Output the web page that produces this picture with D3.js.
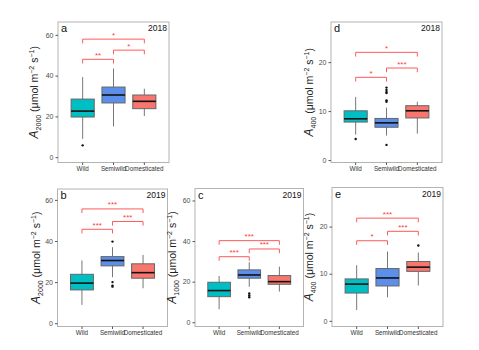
<!DOCTYPE html>
<html lang="en">
<head>
<meta charset="utf-8">
<title>Photosynthesis boxplots</title>
<script src="https://cdn.jsdelivr.net/npm/d3@7"></script>
<style>
  body { margin: 0; background: #fff; }
  text { font-family: "Liberation Sans", Arial, sans-serif; }
</style>
</head>
<body>
<script>
// groups on every x axis
var groups = ["Wild", "Semiwild", "Domesticated"];
var colors = ["#00BFC4", "#5B8FEA", "#F8766D"];

// box stats per group: [lower whisker, q1, median, q3, upper whisker]
var statsA = [[9.0, 19.7, 22.6, 28.5, 39.3], [15.1, 26.6, 30.5, 34.4, 43.5], [20.2, 23.8, 27.4, 30.5, 33.6]];
var outA = [[5.8], [], []];
var statsB = [[8.9, 16.2, 19.5, 23.8, 30.5], [22.4, 27.9, 30.5, 32.4, 37.0], [17.0, 21.9, 24.6, 28.9, 33.2]];
var outB = [[], [39.7, 20.0, 18.3, 17.8], []];
var statsC = [[6.4, 12.6, 15.6, 19.7, 22.8], [17.5, 21.7, 23.3, 25.8, 29.6], [15.1, 18.7, 20.0, 23.0, 27.4]];
var outC = [[], [14.2, 13.2, 12.3], []];
var statsD = [[5.2, 7.76, 8.43, 10.06, 12.9], [5.0, 6.7, 7.6, 8.5, 10.7], [5.4, 8.6, 10.06, 11.1, 11.9]];
var outD = [[4.3], [3.1, 11.9, 12.2, 13.7, 13.9, 14.3, 14.8], []];
var statsE = [[2.3, 5.9, 7.8, 8.9, 11.8], [5.0, 7.4, 9.1, 11.1, 14.7], [7.5, 10.5, 11.4, 12.6, 14.5]];
var outE = [[], [], [16.0]];

// significance brackets: [from group, to group, height, label]
var sigA = [[0, 1, 48.0, "**"], [1, 2, 52.5, "*"], [0, 2, 57.9, "*"]];
var sigB = [[0, 1, 45.7, "***"], [1, 2, 49.5, "***"], [0, 2, 55.6, "***"]];
var sigC = [[0, 1, 32.3, "***"], [1, 2, 36.1, "***"], [0, 2, 40.2, "***"]];
var sigD = [[0, 1, 16.9, "*"], [1, 2, 18.8, "***"], [0, 2, 22.0, "*"]];
var sigE = [[0, 1, 17.0, "*"], [1, 2, 19.0, "***"], [0, 2, 21.8, "***"]];

var ticksBig = [0, 20, 40, 60];
var ticksSmall = [0, 10, 20];

var svg = d3.select("body").append("svg")
  .attr("width", 479).attr("height", 350);

function panel(p) {
  var g = svg.append("g");
  var x = d3.scaleBand().domain(groups).range([p.x0, p.x1]).paddingOuter(0.3).paddingInner(0);
  var y = d3.scaleLinear().domain(p.dom).range([p.y1, p.y0]);
  var bw = x.bandwidth() * 0.75;

  // frame
  g.append("rect").attr("x", p.x0).attr("y", p.y0)
    .attr("width", p.x1 - p.x0).attr("height", p.y1 - p.y0)
    .attr("fill", "none").attr("stroke", "#b3b3b3").attr("stroke-width", 1);

  // y axis
  var ya = g.append("g").attr("transform", "translate(" + p.x0 + ",0)")
    .call(d3.axisLeft(y).tickValues(p.ticks).tickSize(2.5).tickPadding(2));
  ya.select(".domain").remove();
  ya.selectAll("line").attr("stroke", "#555");
  ya.selectAll("text").attr("font-size", 7).attr("fill", "#4d4d4d");

  // x axis
  var xa = g.append("g").attr("transform", "translate(0," + p.y1 + ")")
    .call(d3.axisBottom(x).tickSize(2.5).tickPadding(1.5));
  xa.select(".domain").remove();
  xa.selectAll("line").attr("stroke", "#555");
  xa.selectAll("text").attr("font-size", 6.3).attr("fill", "#333");

  groups.forEach(function(name, i) {
    var s = p.stats[i];
    var cx = x(name) + x.bandwidth() / 2;
    g.append("line").attr("x1", cx).attr("x2", cx)
      .attr("y1", y(s[0])).attr("y2", y(s[4]))
      .attr("stroke", "#777").attr("stroke-width", 1);
    g.append("rect").attr("x", cx - bw / 2).attr("y", y(s[3]))
      .attr("width", bw).attr("height", y(s[1]) - y(s[3]))
      .attr("fill", colors[i]).attr("stroke", "#666").attr("stroke-width", 1);
    g.append("line").attr("x1", cx - bw / 2).attr("x2", cx + bw / 2)
      .attr("y1", y(s[2])).attr("y2", y(s[2]))
      .attr("stroke", "#111").attr("stroke-width", 1.6);
    p.out[i].forEach(function(v) {
      g.append("circle").attr("cx", cx).attr("cy", y(v)).attr("r", 1.2).attr("fill", "#111");
    });
  });

  var tip = (p.dom[1] - p.dom[0]) * 0.03;
  p.sig.forEach(function(b) {
    var xa0 = x(groups[b[0]]) + x.bandwidth() / 2;
    var xa1 = x(groups[b[1]]) + x.bandwidth() / 2;
    var path = d3.path();
    path.moveTo(xa0, y(b[2] - tip));
    path.lineTo(xa0, y(b[2]));
    path.lineTo(xa1, y(b[2]));
    path.lineTo(xa1, y(b[2] - tip));
    g.append("path").attr("d", path.toString())
      .attr("fill", "none").attr("stroke", "#FF5A5A").attr("stroke-width", 1);
    g.append("text").attr("x", (xa0 + xa1) / 2).attr("y", y(b[2]) - 1.5)
      .attr("text-anchor", "middle").attr("font-size", 8).attr("fill", "#FF3B3B")
      .text(b[3]);
  });

  g.append("text").attr("x", p.x0 + 3).attr("y", p.y0 + 10)
    .attr("font-size", 11).attr("fill", "#111").text(p.letter);
  g.append("text").attr("x", p.x1 - 2).attr("y", p.y0 + 9)
    .attr("text-anchor", "end").attr("font-size", 8.5).attr("fill", "#111").text(p.year);

  // y label
  var cy = (p.y0 + p.y1) / 2;
  var lab = g.append("text")
    .attr("transform", "translate(" + p.lx + "," + cy + ") rotate(-90)")
    .attr("text-anchor", "middle").attr("font-size", 10.5).attr("fill", "#222");
  lab.append("tspan").attr("font-style", "italic").attr("font-size", 12).text("A");
  lab.append("tspan").attr("font-size", 7).attr("dy", 3).text(p.sub);
  lab.append("tspan").attr("dy", -3).text(" (\u03bcmol m");
  lab.append("tspan").attr("font-size", 7).attr("dy", -4).text("\u22122");
  lab.append("tspan").attr("dy", 4).text(" s");
  lab.append("tspan").attr("font-size", 7).attr("dy", -4).text("\u22121");
  lab.append("tspan").attr("dy", 4).text(")");
}

panel({x0: 58, x1: 169, y0: 22, y1: 162.5, dom: [-2.6, 66.3], ticks: ticksBig,
  stats: statsA, out: outA, sig: sigA, letter: "a", year: "2018", sub: "2000", lx: 38});
panel({x0: 331, x1: 442, y0: 22, y1: 162.5, dom: [-0.5, 28.2], ticks: ticksSmall,
  stats: statsD, out: outD, sig: sigD, letter: "d", year: "2018", sub: "400", lx: 313});
panel({x0: 57.5, x1: 167.5, y0: 189, y1: 326.5, dom: [-1.6, 65.3], ticks: ticksBig,
  stats: statsB, out: outB, sig: sigB, letter: "b", year: "2019", sub: "2000", lx: 40});
panel({x0: 195, x1: 303.5, y0: 188.5, y1: 326.5, dom: [-2.1, 65.9], ticks: ticksBig,
  stats: statsC, out: outC, sig: sigC, letter: "c", year: "2019", sub: "1000", lx: 176});
panel({x0: 332, x1: 443, y0: 187.5, y1: 326.5, dom: [-1.2, 28.3], ticks: ticksSmall,
  stats: statsE, out: outE, sig: sigE, letter: "e", year: "2019", sub: "400", lx: 313});
</script>
</body>
</html>
